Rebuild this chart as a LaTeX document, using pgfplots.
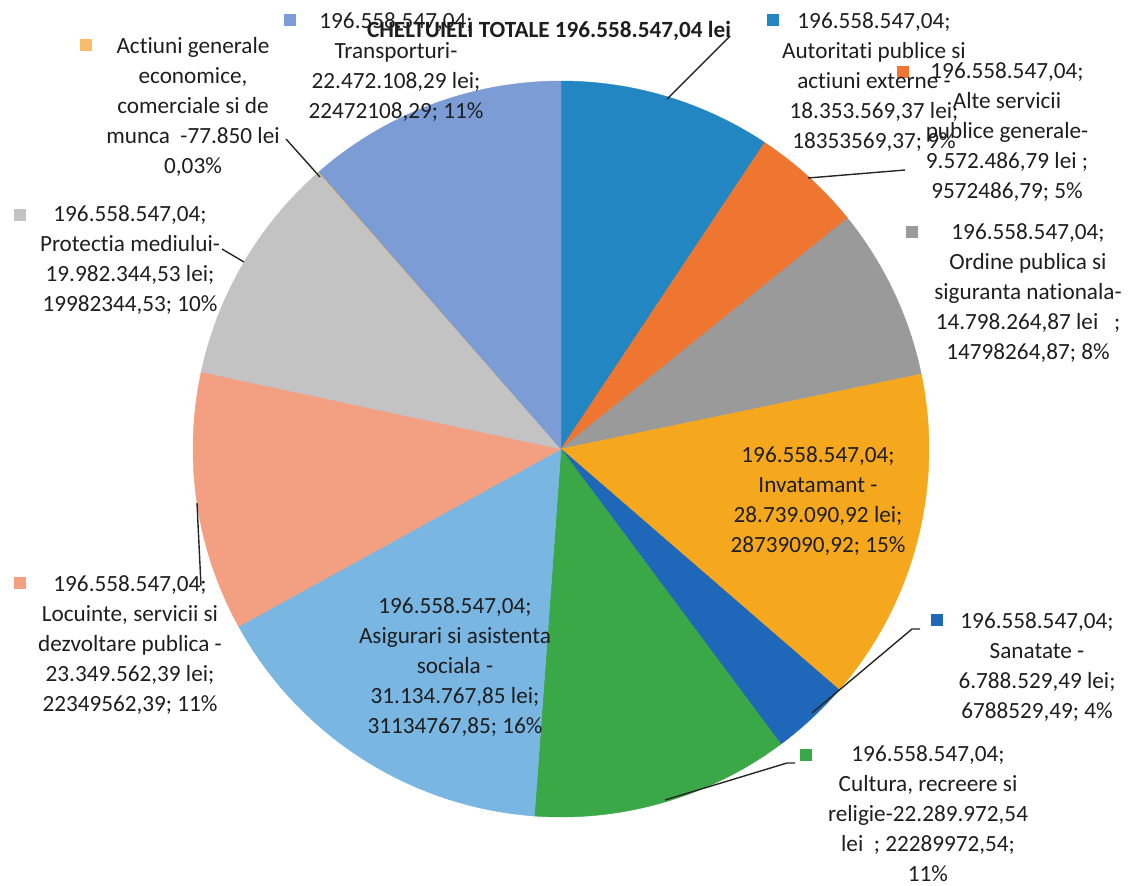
\documentclass[border=0pt]{standalone}
\usepackage{pgfplots}
\pgfplotsset{compat=1.18}
\usepackage{pgfplotstable}
\usepackage{fontspec}
\setmainfont[RawFeature=-liga]{Carlito}
\definecolor{cAut}{HTML}{2186C2}
\definecolor{cAlte}{HTML}{EE7630}
\definecolor{cOrd}{HTML}{9A9A9A}
\definecolor{cInv}{HTML}{F5A81E}
\definecolor{cSan}{HTML}{1F68B9}
\definecolor{cCul}{HTML}{3BA847}
\definecolor{cAsi}{HTML}{7AB6E2}
\definecolor{cLoc}{HTML}{F29F82}
\definecolor{cPro}{HTML}{C3C3C3}
\definecolor{cAct}{HTML}{F8BC6A}
\definecolor{cTra}{HTML}{7B9CD4}
\definecolor{txt}{HTML}{1E1E1E}
% values in millions of lei, clockwise from 12 o'clock
\pgfplotstableread{
value color
18.35356937 cAut
9.57248679 cAlte
14.79826487 cOrd
28.73909092 cInv
6.78852949 cSan
22.28997254 cCul
31.13476785 cAsi
22.34956239 cLoc
19.98234453 cPro
0.07785 cAct
22.47210829 cTra
}\piedata
\begin{document}
\begin{tikzpicture}[
  lab/.style={font=\fontsize{11.6}{15}\selectfont, align=center, text=txt, inner sep=0pt},
  leader/.style={draw=black!85, line width=0.7pt}]
\begin{axis}[width=568pt,height=442.5pt,scale only axis,hide axis,
  xmin=0,xmax=1136,ymin=0,ymax=885,y dir=reverse,clip=false]
\path (axis cs:0,0) rectangle (axis cs:1136,885);
\def\cum{0}
\pgfplotsforeachungrouped \i in {0,...,10}{%
  \pgfplotstablegetelem{\i}{value}\of\piedata \let\v\pgfplotsretval
  \pgfplotstablegetelem{\i}{color}\of\piedata \let\c\pgfplotsretval
  \pgfmathsetmacro\a{90-360*(\cum/196.55854704)}%
  \pgfmathsetmacro\cum{\cum+\v}%
  \pgfmathsetmacro\b{90-360*(\cum/196.55854704)}%
  \edef\tmp{\noexpand\addplot[fill=\c,draw=\c,line width=0.2pt,domain=\b:\a,samples=80,variable=\noexpand\ang] ({561+368*cos(\noexpand\ang)},{449-368*sin(\noexpand\ang)}) -- (axis cs:561,449) -- cycle;}%
  \tmp
}
% leader lines
\draw[leader] (axis cs:667,99) -- (axis cs:730,36);
\draw[leader] (axis cs:808,178) -- (axis cs:905,170);
\draw[leader] (axis cs:812,713) -- (axis cs:912,629) -- (axis cs:920,629);
\draw[leader] (axis cs:665,800) -- (axis cs:787,763) -- (axis cs:795,763);
\draw[leader] (axis cs:197,503) -- (axis cs:201,586);
\draw[leader] (axis cs:244,262) -- (axis cs:222,249);
\draw[leader] (axis cs:320,177) -- (axis cs:286,139);
% legend keys
\fill[cTra] (axis cs:284,14) rectangle (axis cs:296,26);
\fill[cAct] (axis cs:80,39) rectangle (axis cs:92,51);
\fill[cPro] (axis cs:14,209) rectangle (axis cs:26,221);
\fill[cLoc] (axis cs:14,577) rectangle (axis cs:26,589);
\fill[cSan] (axis cs:931,614) rectangle (axis cs:943,626);
\fill[cCul] (axis cs:800,749) rectangle (axis cs:812,761);
\fill[cAut] (axis cs:767,14) rectangle (axis cs:779,26);
\fill[cAlte] (axis cs:897,66) rectangle (axis cs:909,78);
\fill[cOrd] (axis cs:906,226) rectangle (axis cs:918,238);
% labels
\node[lab] at (axis cs:396,67) {196.558.547,04;\\Transporturi-\\22.472.108,29 lei;\\22472108,29; 11\%};
\node[lab] at (axis cs:193,107) {Actiuni generale\\economice,\\comerciale si de\\munca\ \ -77.850 lei\\0,03\%};
\node[lab] at (axis cs:130,260) {196.558.547,04;\\Protectia mediului-\\19.982.344,53 lei;\\19982344,53; 10\%};
\node[lab] at (axis cs:130,645) {196.558.547,04;\\Locuinte, servicii si\\dezvoltare publica -\\23.349.562,39 lei;\\22349562,39; 11\%};
\node[lab] at (axis cs:455,667) {196.558.547,04;\\Asigurari si asistenta\\sociala -\\31.134.767,85 lei;\\31134767,85; 16\%};
\node[lab] at (axis cs:818,501) {196.558.547,04;\\Invatamant -\\28.739.090,92 lei;\\28739090,92; 15\%};
\node[lab] at (axis cs:1037,667) {196.558.547,04;\\Sanatate -\\6.788.529,49 lei;\\6788529,49; 4\%};
\node[lab] at (axis cs:928,814) {196.558.547,04;\\Cultura, recreere si\\religie-22.289.972,54\\lei\ \ ; 22289972,54;\\11\%};
\node[lab] at (axis cs:1028,293) {196.558.547,04;\\Ordine publica si\\siguranta nationala-\\14.798.264,87 lei\ \ \ ;\\14798264,87; 8\%};
\node[lab] at (axis cs:874,82) {196.558.547,04;\\Autoritati publice si\\actiuni externe -\\18.353.569,37 lei;\\18353569,37; 9\%};
\node[lab] at (axis cs:1007,132) {196.558.547,04;\\Alte servicii\\publice generale-\\9.572.486,79 lei ;\\9572486,79; 5\%};
% title
\node[lab, font=\bfseries\fontsize{11.6}{15}\selectfont] at (axis cs:549,31) {CHELTUIELI TOTALE 196.558.547,04 lei};
\end{axis}
\end{tikzpicture}
\end{document}
